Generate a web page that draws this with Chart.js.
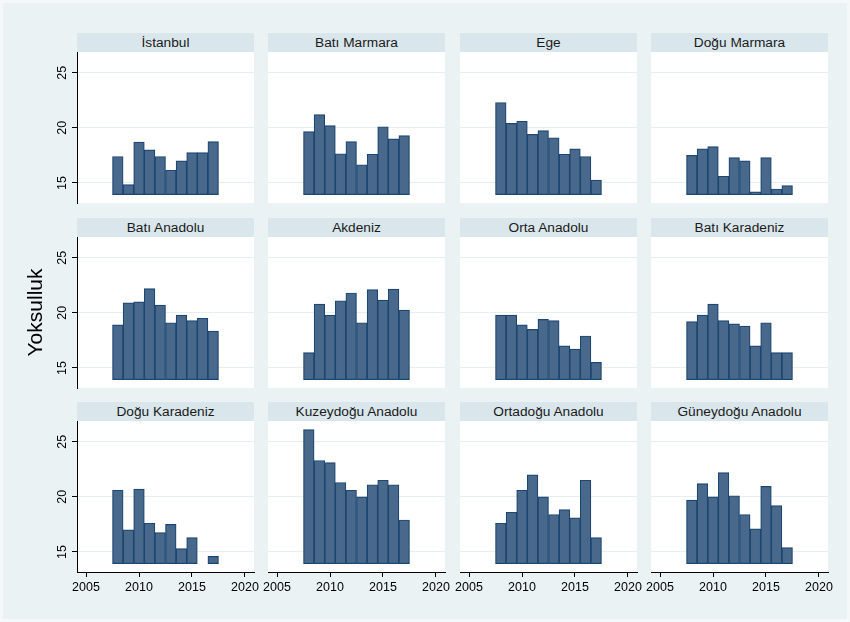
<!DOCTYPE html>
<html lang="tr">
<head>
  <meta charset="UTF-8" />
  <title>Yoksulluk | Bölgeler</title>
  <script src="https://cdn.jsdelivr.net/npm/chart.js"></script>
  <style>
    html, body { margin: 0; padding: 0; background: #fff; }
    #graph {
      position: relative; width: 850px; height: 622px; overflow: hidden;
      background: #eaf2f3; box-shadow: inset 0 0 0 3px #f4f8f9;
      font-family: 'Liberation Sans', Arial, sans-serif;
    }
    .strip {
      position: absolute; width: 177px; height: 19px; line-height: 19px;
      background: #d9e6eb; color: #1a1a1a; font-size: 13.7px; text-align: center;
    }
    .plot-bg { position: absolute; width: 177px; height: 151px; background: #fff; }
    #graph canvas { position: absolute; }
  </style>
</head>
<body>
  <div id="graph"></div>

  <script>
    // Veriler
    const years = [2008, 2009, 2010, 2011, 2012, 2013, 2014, 2015, 2016, 2017];
    const regions = ['İstanbul', 'Batı Marmara', 'Ege', 'Doğu Marmara',
                     'Batı Anadolu', 'Akdeniz', 'Orta Anadolu', 'Batı Karadeniz',
                     'Doğu Karadeniz', 'Kuzeydoğu Anadolu', 'Ortadoğu Anadolu', 'Güneydoğu Anadolu'];

    const istanbul         = [17.4, 14.85, 18.7, 18.0, 17.4, 16.15, 17.0, 17.75, 17.75, 18.75];
    const batiMarmara      = [19.65, 21.2, 20.2, 17.65, 18.75, 16.65, 17.6, 20.1, 19.0, 19.3];
    const ege              = [22.3, 20.4, 20.6, 19.4, 19.75, 19.1, 17.6, 18.1, 17.4, 15.25];
    const doguMarmara      = [17.5, 18.1, 18.3, 15.6, 17.3, 17.0, 14.2, 17.3, 14.45, 14.75];
    const batiAnadolu      = [18.9, 20.9, 21.0, 22.2, 20.7, 19.1, 19.8, 19.3, 19.5, 18.35];
    const akdeniz          = [16.4, 20.8, 19.8, 21.1, 21.8, 19.1, 22.1, 21.15, 22.15, 20.25];
    const ortaAnadolu      = [19.8, 19.8, 18.9, 18.5, 19.4, 19.3, 17.0, 16.7, 17.9, 15.5];
    const batiKaradeniz    = [19.2, 19.8, 20.8, 19.3, 19.0, 18.8, 17.0, 19.1, 16.4, 16.4];
    const doguKaradeniz    = [20.6, 17.0, 20.7, 17.6, 16.75, 17.5, 15.3, 16.3, null, 14.6];
    const kuzeydoguAnadolu = [26.1, 23.3, 23.1, 21.3, 20.6, 20.0, 21.1, 21.5, 21.1, 17.9];
    const ortadoguAnadolu  = [17.6, 18.6, 20.6, 22.0, 20.0, 18.4, 18.85, 18.1, 21.5, 16.3];
    const guneydoguAnadolu = [19.7, 21.2, 20.0, 22.2, 20.1, 18.4, 17.1, 20.95, 19.2, 15.4];

    const seriesByRegion = [istanbul, batiMarmara, ege, doguMarmara,
                            batiAnadolu, akdeniz, ortaAnadolu, batiKaradeniz,
                            doguKaradeniz, kuzeydoguAnadolu, ortadoguAnadolu, guneydoguAnadolu];

    const yTicks = [15, 20, 25];
    const xTicks = [2005, 2010, 2015, 2020];
    const yTitle = 'Yoksulluk';

    // Yerleşim (piksel)
    const colLeft = [77, 268, 460, 651];
    const rowTop = [52, 237, 421];
    const PW = 177, PH = 151, STRIP = 19;
    const Y_AXIS_W = 77, X_AXIS_H = 35, PAD = 12, SIDE = 20;

    Chart.defaults.font.family = "'Liberation Sans', Arial, sans-serif";
    Chart.defaults.color = '#000';

    // Stata gibi dikey y etiketleri (aşağıdan yukarı okunur)
    const verticalYLabels = {
      id: 'verticalYLabels',
      afterDraw(chart, args, opts) {
        if (!opts.show) return;
        const s = chart.scales.y, ctx = chart.ctx;
        ctx.save();
        ctx.font = "12.5px 'Liberation Sans', Arial, sans-serif";
        ctx.fillStyle = '#000';
        ctx.textAlign = 'center';
        ctx.textBaseline = 'middle';
        yTicks.forEach(v => {
          ctx.save();
          ctx.translate(s.right - 14, s.getPixelForValue(v));
          ctx.rotate(-Math.PI / 2);
          ctx.fillText(String(v), 0, 0);
          ctx.restore();
        });
        ctx.restore();
      }
    };

    const graph = document.getElementById('graph');

    regions.forEach((name, i) => {
      const r = Math.floor(i / 4), c = i % 4;
      const firstCol = c === 0, lastRow = r === 2;

      const bg = document.createElement('div');
      bg.className = 'plot-bg';
      bg.style.left = colLeft[c] + 'px';
      bg.style.top = rowTop[r] + 'px';
      graph.appendChild(bg);

      const strip = document.createElement('div');
      strip.className = 'strip';
      strip.style.left = colLeft[c] + 'px';
      strip.style.top = (rowTop[r] - STRIP) + 'px';
      strip.textContent = name;
      graph.appendChild(strip);

      const padLeft = firstCol ? 0 : SIDE;
      const axisW = firstCol ? Y_AXIS_W : 0;
      const canvas = document.createElement('canvas');
      const w = padLeft + axisW + PW + SIDE;
      const h = PAD + PH + (lastRow ? X_AXIS_H : PAD);
      canvas.width = w; canvas.height = h;
      canvas.style.width = w + 'px'; canvas.style.height = h + 'px';
      canvas.style.left = (colLeft[c] - axisW - padLeft) + 'px';
      canvas.style.top = (rowTop[r] - PAD) + 'px';
      graph.appendChild(canvas);

      const vals = seriesByRegion[i];
      new Chart(canvas.getContext('2d'), {
        type: 'bar',
        data: {
          datasets: [{
            data: years.map((yr, k) => ({ x: yr, y: vals[k] })),
            base: 13.94,
            backgroundColor: '#48698b',
            borderColor: '#1d4670',
            borderWidth: 1.2,
            borderSkipped: false,
            barPercentage: 1,
            categoryPercentage: 1
          }]
        },
        plugins: [verticalYLabels],
        options: {
          responsive: false,
          animation: false,
          devicePixelRatio: 1,
          layout: { padding: { left: padLeft, right: SIDE, top: PAD, bottom: lastRow ? 0 : PAD } },
          plugins: {
            legend: { display: false },
            tooltip: { enabled: false },
            verticalYLabels: { show: firstCol }
          },
          scales: {
            x: {
              type: 'linear',
              display: lastRow,
              min: 2004.15,
              max: 2020.85,
              offset: false,
              afterFit: s => { s.height = lastRow ? X_AXIS_H : 0; },
              afterBuildTicks: s => { s.ticks = xTicks.map(v => ({ value: v })); },
              ticks: { includeBounds: false, stepSize: 5, padding: 3, maxRotation: 0,
                       font: { size: 12.5 }, color: '#000', callback: v => String(v) },
              grid: { display: true, offset: false, drawOnChartArea: false, drawTicks: true,
                      tickLength: 5, tickColor: '#000', tickWidth: 1 },
              border: { display: true, color: '#000', width: 1 }
            },
            y: {
              type: 'linear',
              min: 13.18,
              max: 26.88,
              beginAtZero: false,
              afterFit: s => { s.width = axisW; },
              afterBuildTicks: s => { s.ticks = yTicks.map(v => ({ value: v })); },
              title: {
                display: firstCol && r === 1,
                text: yTitle,
                font: { size: 21 },
                color: '#000',
                padding: { top: 24, bottom: 0 }
              },
              ticks: { display: false },
              grid: { display: true, color: '#e5eef1', lineWidth: 1, drawTicks: firstCol,
                      tickLength: 5, tickColor: '#000', tickWidth: 1 },
              border: { display: firstCol, color: '#000', width: 1 }
            }
          }
        }
      });
    });
  </script>
</body>
</html>
